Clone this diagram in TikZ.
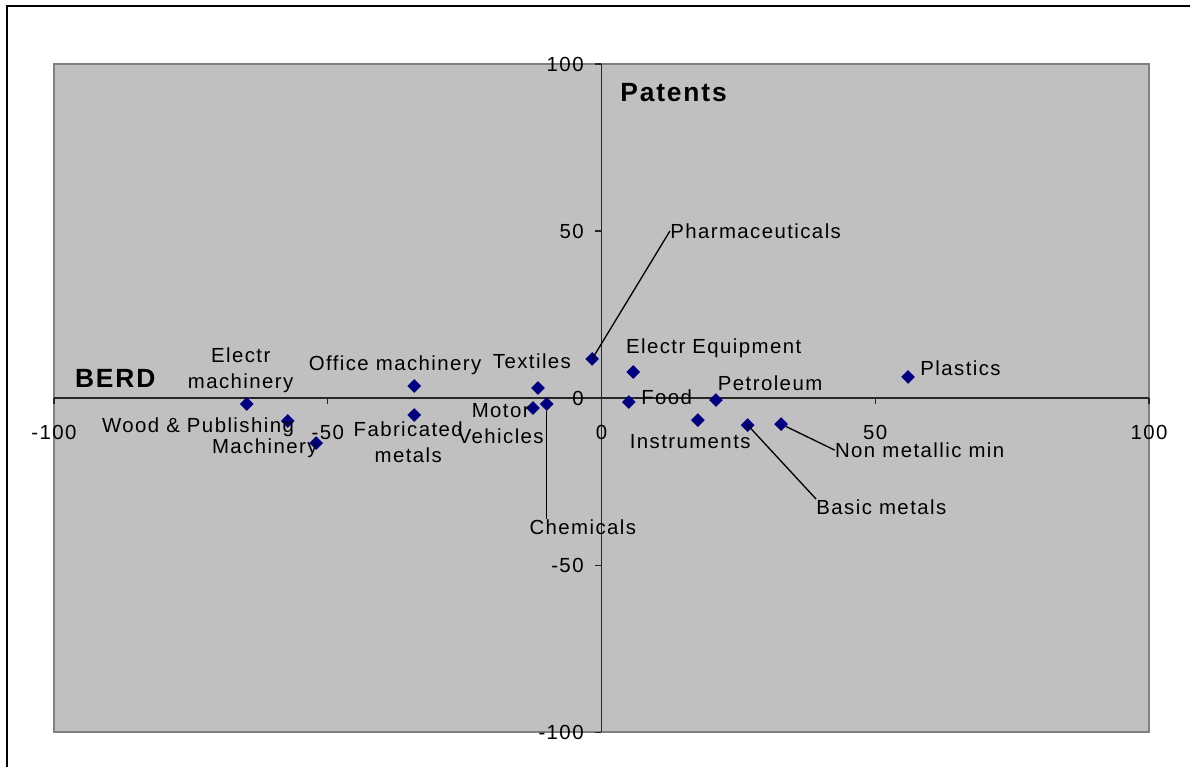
\documentclass[tikz,border=0pt]{standalone}
\usepackage{fontspec}
\setmainfont{Liberation Sans}[LetterSpace=7]
\usepackage{tikz}
\usetikzlibrary{shapes.geometric}
\definecolor{plotgrey}{HTML}{C0C0C0}
\definecolor{plotedge}{HTML}{808080}
\definecolor{marknavy}{HTML}{000080}
\tikzset{
  sectormark/.style={diamond, fill=marknavy, inner sep=0pt, minimum size=0.28cm},
  sectortext/.style={inner sep=0pt, align=center, font=\fontsize{11.6pt}{14.8pt}\selectfont},
  titletext/.style={inner sep=0pt, anchor=west, font=\fontsize{15pt}{17pt}\selectfont\bfseries},
  leader/.style={line width=0.75pt}
}
\newcommand{\sectorpoint}[2] {\node at (#1) (#2) [sectormark] {};}
\newcommand{\sectorlabel}[4] {\node at (#1) (#2) [sectortext, anchor=#3] {#4};}

\begin{document}
\begin{tikzpicture}[x=0.1095cm, y=0.0668cm]
\useasboundingbox (-109.86,-110.48) rectangle (107.49,119.16);

% frame and plot area
\draw [line width=0.9pt] (-108.58,-110.48) -- (-108.58,117.37) -- (107.49,117.37);
\draw [plotedge, fill=plotgrey, line width=1.1pt] (-100,-100) rectangle (100,100);

% axes
\draw [black!85, line width=0.6pt] (-100,0) -- (100,0);
\draw [black!85, line width=0.6pt] (0,-100) -- (0,100);
\foreach \v in {-100,-50,0,50,100} {
  \draw [black!85, line width=0.6pt] (\v,0) -- (\v,-1.8);
  \draw [black!85, line width=0.6pt] (0,\v) -- (-1.1,\v);
  \node at (\v,-10.2) (xtick\v) [sectortext] {\v};
  \node at (-3.2,\v) (ytick\v) [sectortext, anchor=east] {\v};
}

\node at (3.4,91.3) (patents) [titletext] {Patents};
\node at (-96.2,6.0) (berd) [titletext] {BERD};

% points
\sectorpoint {-64.8,-1.8} {elmach};
\sectorpoint {-57.3,-6.9} {woodpub};
\sectorpoint {-52.1,-13.5} {mach};
\sectorpoint {-34.2,3.6} {office};
\sectorpoint {-34.2,-5.1} {fabmet};
\sectorpoint {-11.6,3.0} {textiles};
\sectorpoint {-12.5,-3.0} {motor};
\sectorpoint {-10.0,-1.8} {chem};
\sectorpoint {-1.7,11.7} {pharma};
\sectorpoint {5.8,7.8} {eleq};
\sectorpoint {5.0,-1.2} {food};
\sectorpoint {17.6,-6.6} {instr};
\sectorpoint {20.9,-0.6} {petrol};
\sectorpoint {26.7,-8.1} {basic};
\sectorpoint {32.8,-7.8} {nonmet};
\sectorpoint {56.0,6.3} {plastics};

% labels
\sectorlabel {-65.9,8.4} {elmachlbl} {center} {Electr\\machinery};
\sectorlabel {-73.7,-8.7} {woodpublbl} {center} {Wood \& Publishing};
\sectorlabel {-61.5,-15.0} {machlbl} {center} {Machinery};
\sectorlabel {-37.7,9.9} {officelbl} {center} {Office machinery};
\sectorlabel {-35.3,-13.3} {fabmetlbl} {center} {Fabricated\\metals};
\sectorlabel {-12.7,11.1} {textileslbl} {center} {Textiles};
\sectorlabel {-18.4,-7.6} {motorlbl} {center} {Motor\\Vehicles};
\sectorlabel {-3.4,-38.6} {chemlbl} {center} {Chemicals};
\sectorlabel {12.5,50.0} {pharmalbl} {west} {Pharmaceuticals};
\sectorlabel {20.5,15.0} {eleqlbl} {center} {Electr Equipment};
\sectorlabel {7.2,0.3} {foodlbl} {west} {Food};
\sectorlabel {16.2,-12.9} {instrlbl} {center} {Instruments};
\sectorlabel {30.8,4.5} {petrollbl} {center} {Petroleum};
\sectorlabel {39.2,-32.6} {basiclbl} {west} {Basic metals};
\sectorlabel {42.6,-15.6} {nonmetlbl} {west} {Non metallic min};
\sectorlabel {58.2,9.0} {plasticslbl} {west} {Plastics};

% leader lines
\draw [leader] (pharma.center) -- (pharmalbl.west);
\draw [leader] (chem) -- (chem |- chemlbl.north);
\draw [leader] (basic.center) -- (basiclbl.north west);
\draw [leader] (nonmet) -- (nonmetlbl.west);

\end{tikzpicture}
\end{document}
